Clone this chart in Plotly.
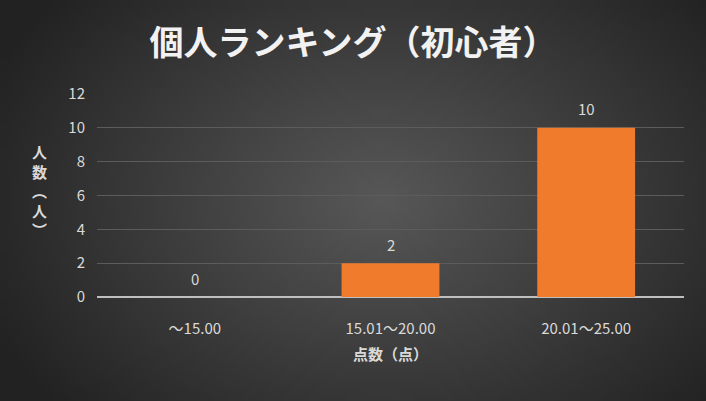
import base64
import struct
import zlib

import plotly.graph_objects as go

# data
categories = ["～15.00", "15.01～20.00", "20.01～25.00"]
counts = [0, 2, 10]
y_ticks = [0, 2, 4, 6, 8, 10, 12]

W, H = 706, 401


def radial_bg(w=141, h=80, cx=0.54, cy=0.5, inner=88, outer=34):
    # small png with a radial grey gradient, stretched over the paper
    rows = b""
    for j in range(h):
        row = b"\x00"
        for i in range(w):
            dx = (i / (w - 1) - cx) / 0.62
            dy = (j / (h - 1) - cy) / 0.8
            d = min(1.0, (dx * dx + dy * dy) ** 0.5)
            v = int(inner + (outer - inner) * d)
            row += bytes([v, v, v])
        rows += row

    def chunk(tag, data):
        c = struct.pack(">I", len(data)) + tag + data
        return c + struct.pack(">I", zlib.crc32(tag + data) & 0xFFFFFFFF)

    png = b"\x89PNG\r\n\x1a\n"
    png += chunk(b"IHDR", struct.pack(">IIBBBBB", w, h, 8, 2, 0, 0, 0))
    png += chunk(b"IDAT", zlib.compress(rows, 9))
    png += chunk(b"IEND", b"")
    return "data:image/png;base64," + base64.b64encode(png).decode()


font = "Noto Sans CJK JP"
txt = "#D9D9D9"

fig = go.Figure(
    go.Bar(
        x=categories,
        y=counts,
        marker=dict(color="#F07B2C", line=dict(width=0)),
        width=0.5,
        hoverinfo="skip",
    )
)

# value labels sit a bit higher than plotly's default outside text
for c, v in zip(categories, counts):
    fig.add_annotation(
        x=c, y=v, text=str(v), showarrow=False,
        yanchor="middle", yshift=19,
        font=dict(family=font, size=15, color=txt),
    )

fig.add_annotation(
    text="<b>人<br>数<br>︵<br>人<br>︶</b>",
    xref="paper", yref="paper",
    x=-57 / (W - 119), y=(297 - 190) / (H - 198),
    xanchor="center", yanchor="middle",
    showarrow=False,
    font=dict(family=font, size=15, color=txt),
)

fig.update_layout(
    width=W,
    height=H,
    margin=dict(l=97, r=22, t=94, b=104),
    paper_bgcolor="#3a3a3a",
    plot_bgcolor="rgba(0,0,0,0)",
    showlegend=False,
    title=dict(
        text="<b>個人ランキング（初心者）</b>",
        x=0.5,
        xanchor="center",
        y=1 - 43 / H,
        yanchor="middle",
        font=dict(family=font, size=34, color="#F2F2F2"),
    ),
    images=[
        dict(
            source=radial_bg(),
            xref="paper", yref="paper",
            x=-97 / (W - 119), y=1 + 94 / (H - 198),
            sizex=W / (W - 119), sizey=H / (H - 198),
            sizing="stretch", layer="below",
            xanchor="left", yanchor="top",
        )
    ],
)

fig.update_xaxes(
    showgrid=False,
    showline=False,
    zeroline=False,
    ticks="outside",
    ticklen=18,
    tickcolor="rgba(0,0,0,0)",
    tickfont=dict(family=font, size=15, color=txt),
    title=dict(
        text="<b>点数（点）</b>",
        font=dict(family=font, size=15, color=txt),
        standoff=12,
    ),
)

fig.update_yaxes(
    range=[0, 12],
    tickvals=y_ticks,
    showgrid=True,
    gridcolor="#5c5c5c",
    gridwidth=1,
    zeroline=True,
    zerolinecolor="#BFBFBF",
    zerolinewidth=2,
    showline=False,
    ticks="outside",
    ticklen=8,
    tickcolor="rgba(0,0,0,0)",
    tickfont=dict(family=font, size=15, color=txt),
)

fig.write_html(
    "out.html",
    config={"displayModeBar": False},
    post_script="document.body.style.margin='0';",
)
